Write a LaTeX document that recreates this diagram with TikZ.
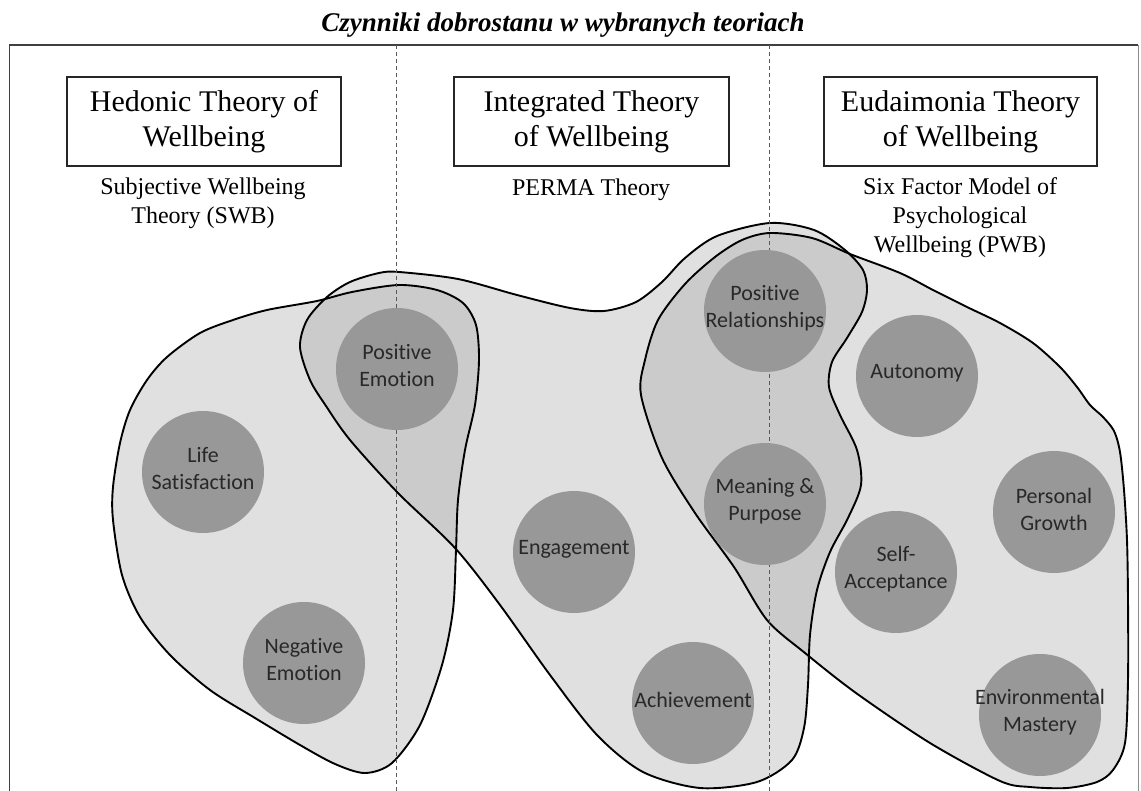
\documentclass[tikz,border=0pt]{standalone}
\usepackage{fontspec}
\setmainfont{Liberation Serif}
\newfontfamily\carl[Ligatures=NoCommon]{Carlito}
\definecolor{blobgray}{RGB}{155,155,155}
\definecolor{circgray}{RGB}{152,152,152}
\definecolor{ctextcol}{RGB}{40,40,40}
\begin{document}
\begin{tikzpicture}[x=1pt,y=-1pt,
  frameline/.style={line width=1.6pt, black!75},
  framelight/.style={line width=0.8pt, black!45},
  sepline/.style={line width=0.8pt, black!65, dash pattern=on 4pt off 3pt},
  headbox/.style={draw=black!85, line width=1.4pt, minimum height=89pt, inner sep=0pt, align=center, font=\fontsize{30}{35}\selectfont},
  subtitle/.style={align=center, font=\fontsize{24}{29}\selectfont},
  blobfill/.style={fill=blobgray, fill opacity=0.3},
  blobline/.style={draw=black, line width=1.9pt},
  factor/.style={circle, fill=circgray, minimum size=122pt, inner sep=0pt},
  factortext/.style={align=center, text=ctextcol, yshift=3pt, font=\carl\fontsize{22}{27}\selectfont},
]
\useasboundingbox (0,0) rectangle (1141,791);
\fill[white] (0,0) rectangle (1141,791);

% frame
\coordinate (fbl) at (9.5,791);
\coordinate (ftl) at (9.5,45);
\coordinate (ftr) at (1138,45);
\coordinate (fbr) at (1138,791);
\draw[frameline] (fbl) -- (ftl) -- (ftr);
\draw[framelight] (ftr) -- (fbr);

% title
\node[font=\fontsize{27}{32}\selectfont\bfseries\itshape, anchor=base] (title) at (563,32) {Czynniki dobrostanu w wybranych teoriach};

% header boxes
\node[headbox, minimum width=274pt] (hed) at (204,121.5) {Hedonic Theory of\\Wellbeing};
\node[headbox, minimum width=275pt] (int) at (591.5,121.5) {Integrated Theory\\of Wellbeing};
\node[headbox, minimum width=273pt] (eud) at (960.5,121.5) {Eudaimonia Theory\\of Wellbeing};

\node[subtitle] (swb) at (203,203) {Subjective Wellbeing\\Theory (SWB)};
\node[subtitle] (perma) at (591,190) {PERMA Theory};
\node[subtitle] (pwb) at (960,218) {Six Factor Model of\\Psychological\\Wellbeing (PWB)};

% blob fills
\path[blobfill] plot[smooth cycle] coordinates {(147,380) (167,357) (200,333) (233,320) (267,310) (317,301) (352,292) (399,285) (437,290) (463,303) (476,325) (479,360) (475,405) (465,450) (458,500) (456,550) (453,610) (442,665) (420,725) (392,763) (365,773) (335,764) (300,745) (255,718) (210,690) (170,655) (140,617) (122,575) (113,520) (113,487) (120,443) (130,410)};
\path[blobfill] plot[smooth cycle] coordinates {(300,347) (307,320) (327,297) (350,282) (379,273) (399,272) (458,279) (517,295) (570,308) (604,311) (636,302) (662,282) (685,258) (717,236) (770,223) (814,230) (845,250) (863,270) (867,290) (862,312) (847,338) (832,362) (829,387) (840,415) (857,450) (861,485) (848,518) (830,552) (817,590) (810,635) (808,685) (804,728) (792,760) (757,782) (700,788) (643,772) (597,735) (550,675) (500,605) (455,548) (398,493) (350,440) (326,406) (310,380)};
\path[blobfill] plot[smooth cycle] coordinates {(641,395) (645,360) (658,320) (685,284) (715,257) (742,240) (770,233) (812,238) (850,254) (900,273) (933,290) (967,307) (1000,323) (1033,343) (1060,367) (1077,387) (1090,405) (1103,417) (1114,431) (1120,452) (1124,490) (1127,540) (1128,600) (1128,680) (1125,743) (1113,770) (1097,782) (1067,788) (1030,787) (1000,781) (930,743) (856,693) (805,653) (767,620) (734,567) (695,513) (662,458)};

% blob outlines
\path[blobline] plot[smooth cycle] coordinates {(147,380) (167,357) (200,333) (233,320) (267,310) (317,301) (352,292) (399,285) (437,290) (463,303) (476,325) (479,360) (475,405) (465,450) (458,500) (456,550) (453,610) (442,665) (420,725) (392,763) (365,773) (335,764) (300,745) (255,718) (210,690) (170,655) (140,617) (122,575) (113,520) (113,487) (120,443) (130,410)};
\path[blobline] plot[smooth cycle] coordinates {(300,347) (307,320) (327,297) (350,282) (379,273) (399,272) (458,279) (517,295) (570,308) (604,311) (636,302) (662,282) (685,258) (717,236) (770,223) (814,230) (845,250) (863,270) (867,290) (862,312) (847,338) (832,362) (829,387) (840,415) (857,450) (861,485) (848,518) (830,552) (817,590) (810,635) (808,685) (804,728) (792,760) (757,782) (700,788) (643,772) (597,735) (550,675) (500,605) (455,548) (398,493) (350,440) (326,406) (310,380)};
\path[blobline] plot[smooth cycle] coordinates {(641,395) (645,360) (658,320) (685,284) (715,257) (742,240) (770,233) (812,238) (850,254) (900,273) (933,290) (967,307) (1000,323) (1033,343) (1060,367) (1077,387) (1090,405) (1103,417) (1114,431) (1120,452) (1124,490) (1127,540) (1128,600) (1128,680) (1125,743) (1113,770) (1097,782) (1067,788) (1030,787) (1000,781) (930,743) (856,693) (805,653) (767,620) (734,567) (695,513) (662,458)};

% dashed separators
\coordinate (d1t) at (396,45);
\coordinate (d1b) at (396,791);
\coordinate (d2t) at (769,45);
\coordinate (d2b) at (769,791);
\draw[sepline] (d1t) -- (d1b);
\draw[sepline] (d2t) -- (d2b);

% factor circles
\node[factor] (pe) at (397,369) {};
\node[factor] (ls) at (203,472) {};
\node[factor] (ne) at (304,663) {};
\node[factor] (en) at (574,552) {};
\node[factor] (ac) at (693,703) {};
\node[factor] (pr) at (765,311) {};
\node[factor] (mp) at (765,504) {};
\node[factor] (au) at (917,376) {};
\node[factor] (pg) at (1054,512) {};
\node[factor] (sa) at (896,572) {};
\node[factor] (em) at (1040,715) {};

\node[factortext] (pe-t) at (pe) {Positive\\Emotion};
\node[factortext] (ls-t) at (ls) {Life\\Satisfaction};
\node[factortext] (ne-t) at (ne) {Negative\\Emotion};
\node[factortext] (en-t) at (en) {Engagement};
\node[factortext] (ac-t) at (ac) {Achievement};
\node[factortext] (pr-t) at (pr) {Positive\\Relationships};
\node[factortext] (mp-t) at (mp) {Meaning \&\\Purpose};
\node[factortext] (au-t) at (au) {Autonomy};
\node[factortext] (pg-t) at (pg) {Personal\\Growth};
\node[factortext] (sa-t) at (sa) {Self-\\Acceptance};
\node[factortext] (em-t) at (em) {Environmental\\Mastery};
\end{tikzpicture}
\end{document}
